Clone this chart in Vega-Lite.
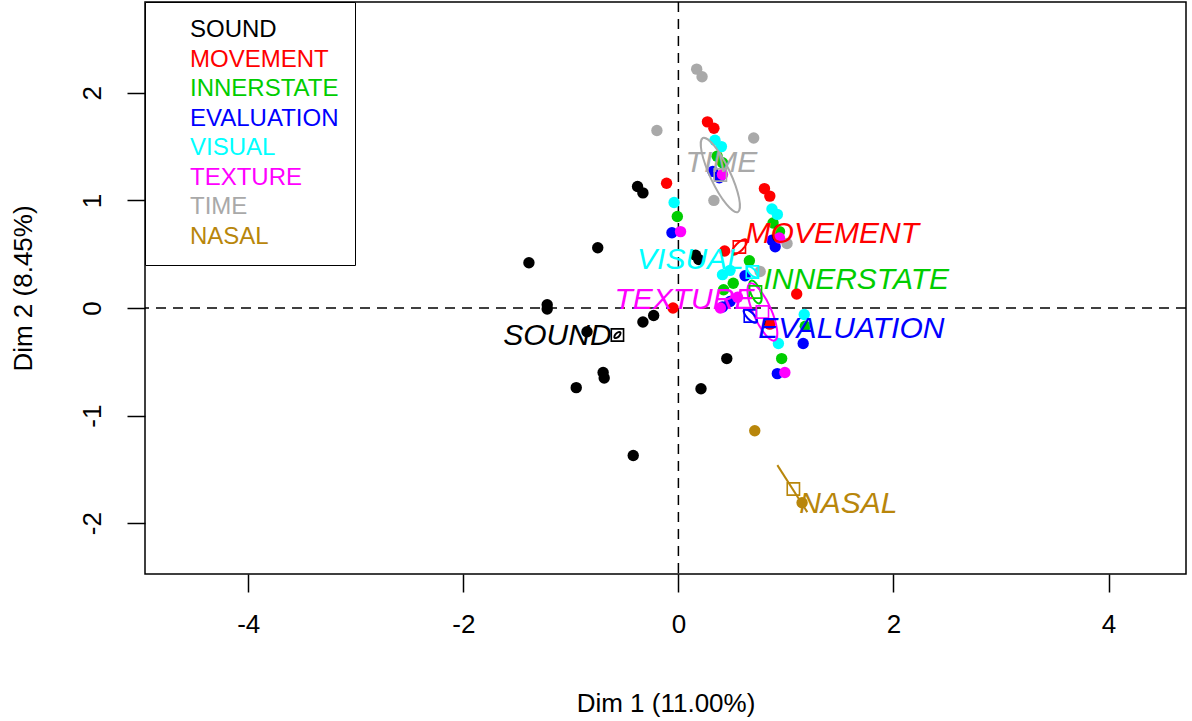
{
"$schema": "https://vega.github.io/schema/vega-lite/v6.json",
"width": 1041, "height": 572,
"autosize": "none",
"padding": {"left": 145, "top": 2, "right": 6, "bottom": 147},
"config": {
 "locale": {"number": {"decimal": ".", "thousands": ",", "grouping": [3], "currency": ["$", ""], "minus": "-"}},
 "view": {"stroke": "black", "strokeWidth": 1.5},
 "font": "Liberation Sans",
 "axis": {"grid": false, "domain": false, "tickColor": "black", "tickSize": 18, "tickWidth": 1.5, "labelFontSize": 26, "labelColor": "black", "labelFont": "Liberation Sans", "titleFont": "Liberation Sans", "titleFontSize": 26, "titleFontWeight": "normal", "titleColor": "black"},
 "axisX": {"labelPadding": 19, "titlePadding": 53},
 "axisY": {"labelAngle": -90, "labelAlign": "center", "labelBaseline": "bottom", "labelPadding": 22, "titlePadding": 43}
},
"datasets": {
"pts": [
{"group":"SOUND","x":-0.38,"y":1.13},{"group":"SOUND","x":-0.33,"y":1.07},{"group":"SOUND","x":-0.75,"y":0.56},{"group":"SOUND","x":-1.39,"y":0.42},{"group":"SOUND","x":-1.22,"y":0.03},{"group":"SOUND","x":-1.22,"y":-0.01},{"group":"SOUND","x":-0.33,"y":-0.13},{"group":"SOUND","x":-0.23,"y":-0.07},{"group":"SOUND","x":-0.85,"y":-0.22},{"group":"SOUND","x":-0.70,"y":-0.60},{"group":"SOUND","x":-0.69,"y":-0.65},{"group":"SOUND","x":-0.95,"y":-0.74},{"group":"SOUND","x":0.21,"y":-0.75},{"group":"SOUND","x":0.45,"y":-0.47},{"group":"SOUND","x":0.16,"y":0.49},{"group":"SOUND","x":0.19,"y":0.45},{"group":"SOUND","x":-0.42,"y":-1.37},
{"group":"MOVEMENT","x":-0.11,"y":1.16},{"group":"MOVEMENT","x":0.27,"y":1.73},{"group":"MOVEMENT","x":0.33,"y":1.67},{"group":"MOVEMENT","x":0.80,"y":1.11},{"group":"MOVEMENT","x":0.85,"y":1.04},{"group":"MOVEMENT","x":0.43,"y":0.53},{"group":"MOVEMENT","x":1.10,"y":0.13},{"group":"MOVEMENT","x":-0.05,"y":0.0},{"group":"MOVEMENT","x":0.85,"y":-0.15},
{"group":"INNERSTATE","x":-0.01,"y":0.85},{"group":"INNERSTATE","x":0.36,"y":1.41},{"group":"INNERSTATE","x":0.41,"y":1.35},{"group":"INNERSTATE","x":0.88,"y":0.79},{"group":"INNERSTATE","x":0.94,"y":0.71},{"group":"INNERSTATE","x":0.66,"y":0.44},{"group":"INNERSTATE","x":0.51,"y":0.23},{"group":"INNERSTATE","x":0.42,"y":0.17},{"group":"INNERSTATE","x":1.18,"y":-0.17},{"group":"INNERSTATE","x":0.96,"y":-0.47},
{"group":"TIME","x":0.17,"y":2.22},{"group":"TIME","x":0.22,"y":2.15},{"group":"TIME","x":-0.20,"y":1.65},{"group":"TIME","x":0.70,"y":1.58},{"group":"TIME","x":0.33,"y":1.00},{"group":"TIME","x":1.01,"y":0.60},{"group":"TIME","x":0.76,"y":0.34},
{"group":"EVALUATION","x":-0.06,"y":0.70},{"group":"EVALUATION","x":0.32,"y":1.27},{"group":"EVALUATION","x":0.38,"y":1.21},{"group":"EVALUATION","x":0.87,"y":0.63},{"group":"EVALUATION","x":0.90,"y":0.57},{"group":"EVALUATION","x":0.62,"y":0.30},{"group":"EVALUATION","x":0.41,"y":0.01},{"group":"EVALUATION","x":0.48,"y":0.06},{"group":"EVALUATION","x":1.16,"y":-0.33},{"group":"EVALUATION","x":0.92,"y":-0.61},
{"group":"VISUAL","x":-0.04,"y":0.98},{"group":"VISUAL","x":0.34,"y":1.56},{"group":"VISUAL","x":0.40,"y":1.50},{"group":"VISUAL","x":0.87,"y":0.92},{"group":"VISUAL","x":0.92,"y":0.87},{"group":"VISUAL","x":0.41,"y":0.31},{"group":"VISUAL","x":0.48,"y":0.35},{"group":"VISUAL","x":1.17,"y":-0.06},{"group":"VISUAL","x":0.93,"y":-0.33},
{"group":"TEXTURE","x":0.02,"y":0.71},{"group":"TEXTURE","x":0.41,"y":1.24},{"group":"TEXTURE","x":0.94,"y":0.65},{"group":"TEXTURE","x":0.99,"y":-0.60},{"group":"TEXTURE","x":0.39,"y":0.0},{"group":"TEXTURE","x":0.55,"y":0.10},
{"group":"NASAL","x":0.71,"y":-1.14},{"group":"NASAL","x":1.15,"y":-1.81}
],
"ell": [
{"group":"TIME","idx":0,"x":0.553,"y":0.892},{"group":"TIME","idx":1,"x":0.564,"y":1.021},{"group":"TIME","idx":2,"x":0.474,"y":1.276},{"group":"TIME","idx":3,"x":0.334,"y":1.507},{"group":"TIME","idx":4,"x":0.227,"y":1.580},{"group":"TIME","idx":5,"x":0.216,"y":1.451},{"group":"TIME","idx":6,"x":0.306,"y":1.196},{"group":"TIME","idx":7,"x":0.446,"y":0.965},
{"group":"MOVEMENT","idx":0,"x":0.633,"y":0.633},{"group":"MOVEMENT","idx":1,"x":0.596,"y":0.632},{"group":"MOVEMENT","idx":2,"x":0.541,"y":0.593},{"group":"MOVEMENT","idx":3,"x":0.502,"y":0.538},{"group":"MOVEMENT","idx":4,"x":0.501,"y":0.501},{"group":"MOVEMENT","idx":5,"x":0.538,"y":0.502},{"group":"MOVEMENT","idx":6,"x":0.593,"y":0.541},{"group":"MOVEMENT","idx":7,"x":0.632,"y":0.596},
{"group":"INNERSTATE","idx":0,"x":0.755,"y":0.044},{"group":"INNERSTATE","idx":1,"x":0.774,"y":0.086},{"group":"INNERSTATE","idx":2,"x":0.759,"y":0.165},{"group":"INNERSTATE","idx":3,"x":0.718,"y":0.234},{"group":"INNERSTATE","idx":4,"x":0.677,"y":0.254},{"group":"INNERSTATE","idx":5,"x":0.658,"y":0.212},{"group":"INNERSTATE","idx":6,"x":0.673,"y":0.133},{"group":"INNERSTATE","idx":7,"x":0.714,"y":0.064},
{"group":"TEXTURE","idx":0,"x":0.897,"y":-0.301},{"group":"TEXTURE","idx":1,"x":0.917,"y":-0.199},{"group":"TEXTURE","idx":2,"x":0.858,"y":-0.003},{"group":"TEXTURE","idx":3,"x":0.753,"y":0.173},{"group":"TEXTURE","idx":4,"x":0.665,"y":0.227},{"group":"TEXTURE","idx":5,"x":0.645,"y":0.125},{"group":"TEXTURE","idx":6,"x":0.704,"y":-0.071},{"group":"TEXTURE","idx":7,"x":0.809,"y":-0.247},
{"group":"EVALUATION","idx":0,"x":0.728,"y":-0.133},{"group":"EVALUATION","idx":1,"x":0.727,"y":-0.100},{"group":"EVALUATION","idx":2,"x":0.692,"y":-0.051},{"group":"EVALUATION","idx":3,"x":0.643,"y":-0.016},{"group":"EVALUATION","idx":4,"x":0.610,"y":-0.015},{"group":"EVALUATION","idx":5,"x":0.611,"y":-0.048},{"group":"EVALUATION","idx":6,"x":0.646,"y":-0.097},{"group":"EVALUATION","idx":7,"x":0.695,"y":-0.132},
{"group":"VISUAL","idx":0,"x":0.734,"y":0.289},{"group":"VISUAL","idx":1,"x":0.735,"y":0.316},{"group":"VISUAL","idx":2,"x":0.708,"y":0.355},{"group":"VISUAL","idx":3,"x":0.669,"y":0.382},{"group":"VISUAL","idx":4,"x":0.642,"y":0.381},{"group":"VISUAL","idx":5,"x":0.641,"y":0.354},{"group":"VISUAL","idx":6,"x":0.668,"y":0.315},{"group":"VISUAL","idx":7,"x":0.707,"y":0.288},
{"group":"SOUND","idx":0,"x":-0.541,"y":-0.225},{"group":"SOUND","idx":1,"x":-0.558,"y":-0.224},{"group":"SOUND","idx":2,"x":-0.580,"y":-0.238},{"group":"SOUND","idx":3,"x":-0.594,"y":-0.260},{"group":"SOUND","idx":4,"x":-0.593,"y":-0.277},{"group":"SOUND","idx":5,"x":-0.576,"y":-0.278},{"group":"SOUND","idx":6,"x":-0.554,"y":-0.264},{"group":"SOUND","idx":7,"x":-0.540,"y":-0.242}
],
"seg": [
{"group":"NASAL","idx":0,"x":0.920,"y":-1.460},{"group":"NASAL","idx":1,"x":1.199,"y":-1.897}
],
"cent": [
{"group":"SOUND","x":-0.567,"y":-0.251},{"group":"MOVEMENT","x":0.567,"y":0.567},{"group":"INNERSTATE","x":0.716,"y":0.149},{"group":"EVALUATION","x":0.669,"y":-0.074},{"group":"VISUAL","x":0.688,"y":0.335},{"group":"TEXTURE","x":0.781,"y":-0.037},{"group":"TIME","x":0.39,"y":1.236},{"group":"NASAL","x":1.069,"y":-1.682}
],
"lab": [
{"group":"TIME","x":0.400,"y":1.348},{"group":"MOVEMENT","x":1.431,"y":0.688},{"group":"INNERSTATE","x":1.654,"y":0.260},{"group":"EVALUATION","x":1.608,"y":-0.195},{"group":"VISUAL","x":0.112,"y":0.446},{"group":"TEXTURE","x":0.056,"y":0.074},{"group":"SOUND","x":-1.125,"y":-0.260},{"group":"NASAL","x":1.580,"y":-1.822}
],
"one": [{"v": 0}]
},
"layer": [
{"data": {"name": "one"},
 "mark": {"type": "rule", "strokeDash": [10, 7], "strokeWidth": 1.5, "color": "black"},
 "encoding": {"x": {"datum": 0, "type": "quantitative", "scale": {"domain": [-4.96, 4.72], "nice": false, "zero": false}, "title": "Dim 1 (11.00%)", "axis": {"values": [-4, -2, 0, 2, 4]}}}},
{"data": {"name": "one"},
 "mark": {"type": "rule", "strokeDash": [10, 7], "strokeWidth": 1.5, "color": "black"},
 "encoding": {"y": {"datum": 0, "type": "quantitative", "scale": {"domain": [-2.472, 2.844], "nice": false, "zero": false}, "title": "Dim 2 (8.45%)", "axis": {"values": [-2, -1, 0, 1, 2]}}}},
{"data": {"name": "pts"},
 "mark": {"type": "circle", "size": 130, "opacity": 1},
 "encoding": {
  "x": {"field": "x", "type": "quantitative", "title": "Dim 1 (11.00%)", "axis": {"values": [-4, -2, 0, 2, 4]}},
  "y": {"field": "y", "type": "quantitative", "title": "Dim 2 (8.45%)", "axis": {"values": [-2, -1, 0, 1, 2]}},
  "color": {"field": "group", "type": "nominal",
            "scale": {"domain": ["SOUND", "MOVEMENT", "INNERSTATE", "EVALUATION", "VISUAL", "TEXTURE", "TIME", "NASAL"], "range": ["#000000", "#FF0000", "#00CD00", "#0000FF", "#00FFFF", "#FF00FF", "#A9A9A9", "#B8860B"]},
            "legend": {"title": null, "orient": "top-left", "offset": 0, "padding": 16, "fillColor": "white", "strokeColor": "black", "symbolOpacity": 0, "symbolSize": 100, "labelOffset": 5, "labelFontSize": 24, "labelFont": "Liberation Sans", "labelLimit": 400, "rowPadding": 5.5,
                       "encode": {"labels": {"update": {"fill": {"scale": "color", "field": "value"}}}}}}
 }},
{"data": {"name": "ell"},
 "mark": {"type": "line", "interpolate": "cardinal-closed", "strokeWidth": 2},
 "encoding": {
  "x": {"field": "x", "type": "quantitative", "title": "Dim 1 (11.00%)", "axis": {"values": [-4, -2, 0, 2, 4]}},
  "y": {"field": "y", "type": "quantitative", "title": "Dim 2 (8.45%)", "axis": {"values": [-2, -1, 0, 1, 2]}},
  "color": {"field": "group", "type": "nominal", "legend": null},
  "order": {"field": "idx", "type": "quantitative"}
 }},
{"data": {"name": "seg"},
 "mark": {"type": "line", "strokeWidth": 2},
 "encoding": {
  "x": {"field": "x", "type": "quantitative", "title": "Dim 1 (11.00%)", "axis": {"values": [-4, -2, 0, 2, 4]}},
  "y": {"field": "y", "type": "quantitative", "title": "Dim 2 (8.45%)", "axis": {"values": [-2, -1, 0, 1, 2]}},
  "color": {"field": "group", "type": "nominal", "legend": null},
  "order": {"field": "idx", "type": "quantitative"}
 }},
{"data": {"name": "cent"},
 "mark": {"type": "point", "shape": "square", "filled": false, "size": 150, "strokeWidth": 1.6, "opacity": 1},
 "encoding": {
  "x": {"field": "x", "type": "quantitative", "title": "Dim 1 (11.00%)", "axis": {"values": [-4, -2, 0, 2, 4]}},
  "y": {"field": "y", "type": "quantitative", "title": "Dim 2 (8.45%)", "axis": {"values": [-2, -1, 0, 1, 2]}},
  "color": {"field": "group", "type": "nominal", "legend": null}
 }},
{"data": {"name": "lab"},
 "mark": {"type": "text", "fontSize": 30, "fontStyle": "italic", "font": "Liberation Sans", "align": "center", "baseline": "middle"},
 "encoding": {
  "x": {"field": "x", "type": "quantitative", "title": "Dim 1 (11.00%)", "axis": {"values": [-4, -2, 0, 2, 4]}},
  "y": {"field": "y", "type": "quantitative", "title": "Dim 2 (8.45%)", "axis": {"values": [-2, -1, 0, 1, 2]}},
  "text": {"field": "group"},
  "color": {"field": "group", "type": "nominal", "legend": null}
 }}
]
}
